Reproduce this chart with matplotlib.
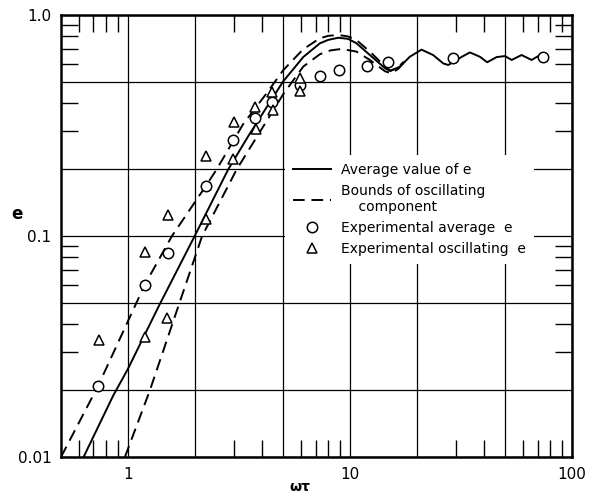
import numpy as np
import matplotlib
matplotlib.use('Agg')
import matplotlib.pyplot as plt
from matplotlib.lines import Line2D

# average value of e (solid curve)
avg_x = [0.632, 0.86, 1.0, 1.39, 2.0, 2.83, 3.5, 4.2, 5.0, 6.16, 7.33, 8.0, 8.86, 9.8,
         10.7, 12.3, 14.4, 15.2, 16.8, 18.6, 21.0, 23.7, 26.3, 27.7, 29.5, 31.9, 34.7,
         38.5, 41.5, 45.8, 49.9, 53.5, 59.3, 65.8, 70.5, 74.0]
avg_y = [0.01, 0.019, 0.025, 0.049, 0.1, 0.2, 0.285, 0.38, 0.5, 0.645, 0.745, 0.772, 0.789, 0.78,
         0.745, 0.659, 0.574, 0.558, 0.584, 0.647, 0.697, 0.659, 0.604, 0.594, 0.615, 0.647, 0.677,
         0.647, 0.611, 0.645, 0.652, 0.626, 0.659, 0.626, 0.652, 0.647]

# bounds of oscillating component (dashed curves)
upper_x = [0.5, 0.735, 1.19, 1.58, 2.25, 2.51, 3.3, 4.22, 5.01, 6.16, 7.33, 8.0, 8.86, 9.8,
           10.7, 12.3, 14.4, 15.2, 16.3, 17.5]
upper_y = [0.01, 0.021, 0.06, 0.1, 0.169, 0.2, 0.32, 0.443, 0.563, 0.70, 0.785, 0.805, 0.812, 0.80,
           0.77, 0.683, 0.584, 0.56, 0.575, 0.615]
lower_x = [0.97, 1.256, 1.71, 2.16, 3.09, 5.0, 6.16, 7.33, 8.2, 9.17, 10.7, 12.3, 14.4,
           15.4, 16.5, 17.5]
lower_y = [0.01, 0.02, 0.05, 0.1, 0.2, 0.437, 0.584, 0.665, 0.692, 0.702, 0.683, 0.626, 0.556,
           0.545, 0.57, 0.61]

# experimental points
circ_x = [0.735, 1.19, 1.52, 2.25, 2.98, 3.73, 4.44, 5.95, 7.33, 8.95, 11.9, 14.9, 29.2, 74.3]
circ_y = [0.021, 0.060, 0.0835, 0.169, 0.272, 0.341, 0.406, 0.482, 0.530, 0.563, 0.590,
          0.615, 0.637, 0.647]
tri_x = [0.743, 1.20, 1.20, 1.50, 1.52, 2.25, 2.25, 2.98, 3.0, 3.73, 3.77, 4.44, 4.49, 5.95, 5.95]
tri_y = [0.0338, 0.035, 0.0849, 0.0425, 0.124, 0.229, 0.120, 0.223, 0.327, 0.385, 0.304,
         0.450, 0.372, 0.519, 0.453]

xmaj = [1, 2, 5, 10, 20, 50, 100]
xmaj_lab = ['1', '', '', '10', '', '', '100']
xmin = [0.6, 0.7, 0.8, 0.9, 3, 4, 6, 7, 8, 9, 30, 40, 60, 70, 80, 90]
ymaj = [0.01, 0.02, 0.05, 0.1, 0.2, 0.5, 1.0]
ymaj_lab = ['0.01', '', '', '0.1', '', '', '1.0']
ymin = [0.03, 0.04, 0.06, 0.07, 0.08, 0.09, 0.3, 0.4, 0.6, 0.7, 0.8, 0.9]

plt.rcParams['font.family'] = 'DejaVu Sans'

fig = plt.figure(figsize=(5.92, 4.93), dpi=100)
ax = fig.add_axes([61/592, 1 - 457/493, 511/592, 442/493])
ax.set_xscale('log')
ax.set_yscale('log')

ax.plot(avg_x, avg_y, 'k-', lw=1.4)
ax.plot(upper_x, upper_y, 'k-', lw=1.4, dashes=(6, 3.5))
ax.plot(lower_x, lower_y, 'k-', lw=1.4, dashes=(6, 3.5))
ax.plot(circ_x, circ_y, 'o', ms=7.5, mfc='white', mec='black', mew=1.1)
ax.plot(tri_x, tri_y, '^', ms=7.5, mfc='white', mec='black', mew=1.1)

ax.set_xlim(0.5, 100)
ax.set_ylim(0.01, 1.0)
ax.set_xticks(xmaj, xmaj_lab)
ax.set_xticks(xmin, [''] * len(xmin), minor=True)
ax.set_yticks(ymaj, ymaj_lab)
ax.set_yticks(ymin, [''] * len(ymin), minor=True)
ax.tick_params(which='minor', direction='in', length=12, width=1, top=True, right=True)
ax.tick_params(which='major', length=0, pad=7, labelsize=11)
ax.grid(which='major', color='black', lw=0.9)
for s in ax.spines.values():
    s.set_linewidth(1.8)

ax.set_xlabel('ωτ', fontsize=10, fontweight='bold', va='center')
ax.xaxis.set_label_coords(0.468, -0.068)
ax.set_ylabel('e', fontsize=12, fontweight='bold', rotation=0)
ax.yaxis.set_label_coords(-0.086, 0.53)

handles = [Line2D([], [], color='k', lw=1.4),
           Line2D([], [], color='k', lw=1.4, dashes=(6, 3.5)),
           Line2D([], [], ls='', marker='o', ms=7.5, mfc='white', mec='k', mew=1.1),
           Line2D([], [], ls='', marker='^', ms=7.5, mfc='white', mec='k', mew=1.1)]
labels = ['Average value of e',
          'Bounds of oscillating\n    component',
          'Experimental average  e',
          'Experimental oscillating  e']
leg = ax.legend(handles, labels, loc='upper left', bbox_to_anchor=(0.425, 0.70),
                fontsize=10, handlelength=2.7, labelspacing=0.5, handletextpad=0.7,
                frameon=True, fancybox=False, framealpha=1, borderpad=0.6)
leg.get_frame().set_edgecolor('none')

fig.savefig('out.png', dpi=100)
